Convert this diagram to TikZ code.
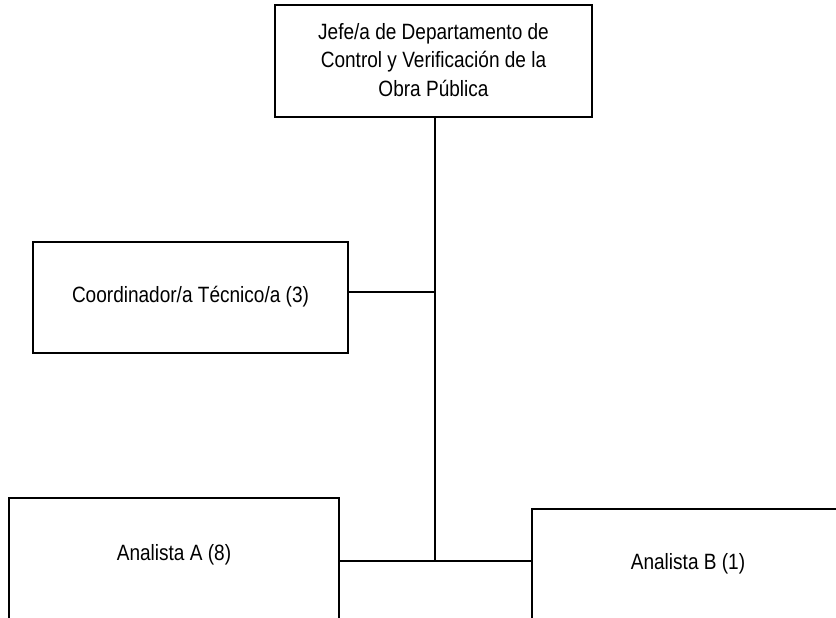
\documentclass[tikz,border=0pt]{standalone}
\usepackage{fontspec}
\setmainfont{Liberation Sans}[FakeStretch=0.86]
\begin{document}
\begin{tikzpicture}[x=0.75pt,y=-0.75pt,
  box/.style={draw=black,line width=1.1pt,fill=white,inner sep=0pt},
  lbl/.style={font=\fontsize{16.6}{21.6}\selectfont,align=center,inner sep=0pt},
  conn/.style={draw=black,line width=1.1pt}]
\useasboundingbox (0,0) rectangle (836,618);
\clip (0,0) rectangle (836,618);
% boxes
\node[box,minimum width=317*0.75pt,minimum height=112*0.75pt] (jefe) at (433.5,61) {};
\node[lbl] (jefetxt) at (433.5,60) {Jefe/a de Departamento de\\Control y Verificación de la\\Obra Pública};
\node[box,minimum width=315*0.75pt,minimum height=111*0.75pt] (coord) at (190.5,297.5) {};
\node[lbl] (coordtxt) at (190.5,297) {Coordinador/a Técnico/a (3)};
\node[box,minimum width=330*0.75pt,minimum height=170*0.75pt] (anA) at (174,583) {};
\node[lbl] (anAtxt) at (174,555) {Analista A (8)};
\node[box,minimum width=340*0.75pt,minimum height=160*0.75pt] (anB) at (702,589) {};
\node[lbl] (anBtxt) at (688,564) {Analista B (1)};
% connectors
\coordinate (k) at (435,292);
\coordinate (j) at (435,561);
\draw[conn] (jefe.south -| j) -- (j);
\draw[conn] (coord.east |- k) -- (k);
\draw[conn] (anA.east |- j) -- (anB.west |- j);
\end{tikzpicture}
\end{document}
